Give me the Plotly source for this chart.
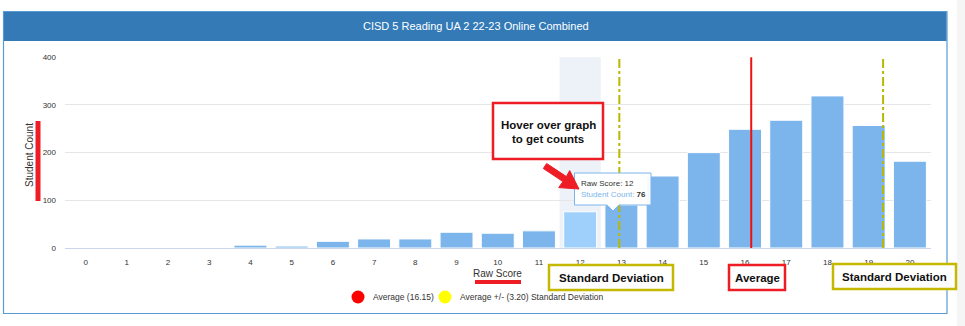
import plotly.graph_objects as go

# ---- data ----
scores = list(range(0, 21))
counts = [0, 0, 0, 0, 6, 4, 14, 19, 19, 33, 31, 36, 76, 90, 151, 200, 249, 268, 319, 257, 182]
average = 16.15
std_dev = 3.20
highlight_score = 12
title_text = "CISD 5 Reading UA 2 22-23 Online Combined"

W, H = 965, 326


def px(x):
    return x / W


def py(y):
    return 1 - y / H


bar_colors = ["#9fd0fb" if s == highlight_score else "#7cb5ec" for s in scores]

fig = go.Figure()
fig.add_trace(go.Bar(
    x=scores, y=counts,
    marker=dict(color=bar_colors, line=dict(color="white", width=1)),
    hoverinfo="skip", showlegend=False,
))

FONT = "Liberation Sans, Arial, sans-serif"
shapes = []
annotations = []

# panel border & title bar
shapes.append(dict(type="rect", xref="paper", yref="paper", x0=px(957), x1=px(965), y0=0, y1=1,
                   fillcolor="#f5f5f5", line=dict(width=0), layer="below"))
shapes.append(dict(type="rect", xref="paper", yref="paper", x0=px(3.5), x1=px(947), y0=py(313.5), y1=py(11.5),
                   fillcolor="white", line=dict(color="#5a9bd3", width=1.2), layer="below"))
shapes.append(dict(type="rect", xref="paper", yref="paper", x0=px(4), x1=px(946.5), y0=py(41), y1=py(12),
                   fillcolor="#337ab7", line=dict(width=0), layer="below"))
annotations.append(dict(xref="paper", yref="paper", x=px(476), y=py(26.5), text=title_text, showarrow=False,
                        font=dict(family=FONT, size=11, color="white"), xanchor="center", yanchor="middle"))

# hover band
shapes.append(dict(type="rect", xref="x", yref="y domain", x0=highlight_score - 0.5, x1=highlight_score + 0.5,
                   y0=0, y1=1, fillcolor="rgba(204,214,235,0.35)", line=dict(width=0), layer="below"))

# average & std-dev lines
shapes.append(dict(type="line", xref="x", yref="y domain", x0=average, x1=average, y0=0, y1=1,
                   line=dict(color="#ee1111", width=2), layer="above"))
for v in (average - std_dev, average + std_dev):
    shapes.append(dict(type="line", xref="x", yref="y domain", x0=v, x1=v, y0=0, y1=1,
                       line=dict(color="#b8b800", width=2, dash="dashdot"), layer="above"))

# axis titles + red highlight marks
annotations.append(dict(xref="paper", yref="paper", x=px(30), y=py(155), text="Student Count", textangle=-90,
                        showarrow=False, font=dict(family=FONT, size=10, color="#333333"),
                        xanchor="center", yanchor="middle"))
shapes.append(dict(type="line", xref="paper", yref="paper", x0=px(38), x1=px(38), y0=py(121), y1=py(201),
                   line=dict(color="#ee1c25", width=5)))
annotations.append(dict(xref="paper", yref="paper", x=px(497.5), y=py(273), text="Raw Score",
                        showarrow=False, font=dict(family=FONT, size=10, color="#333333"),
                        xanchor="center", yanchor="middle"))
shapes.append(dict(type="line", xref="paper", yref="paper", x0=px(475), x1=px(521), y0=py(282), y1=py(282),
                   line=dict(color="#ee1c25", width=4)))

# legend
for cx, col, label in [(358, "#ff0000", f"Average ({average:.2f})"),
                       (445, "#ffff00", f"Average +/- ({std_dev:.2f}) Standard Deviation")]:
    shapes.append(dict(type="circle", xref="paper", yref="paper", x0=px(cx - 6.5), x1=px(cx + 6.5),
                       y0=py(297 + 6.5), y1=py(297 - 6.5), fillcolor=col, line=dict(width=0)))
    annotations.append(dict(xref="paper", yref="paper", x=px(cx + 12.5), y=py(297), text=label, showarrow=False,
                            font=dict(family=FONT, size=8.5, color="#333333"), xanchor="left", yanchor="middle"))

# callout boxes
def box(x0, x1, y0, y1, color, lines, cy_list):
    shapes.append(dict(type="rect", xref="paper", yref="paper", x0=px(x0), x1=px(x1), y0=py(y1), y1=py(y0),
                       fillcolor="white", line=dict(color=color, width=2.5)))
    for t, cy in zip(lines, cy_list):
        annotations.append(dict(xref="paper", yref="paper", x=px((x0 + x1) / 2), y=py(cy), text=f"<b>{t}</b>",
                                showarrow=False, font=dict(family=FONT, size=11.5, color="#111111"),
                                xanchor="center", yanchor="middle"))


box(549, 673, 265, 290, "#c4b800", ["Standard Deviation"], [277.5])
box(729, 785, 265, 290, "#ee1c25", ["Average"], [277.5])
box(833, 956, 264, 289, "#c4b800", ["Standard Deviation"], [276.5])
box(493, 603, 103, 159, "#ee1c25", ["Hover over graph", "to get counts"], [125, 139])

# tooltip
shapes.append(dict(type="path", xref="paper", yref="paper",
                   path=(f"M {px(574.5)},{py(173)} L {px(651)},{py(173)} L {px(651)},{py(205)} "
                         f"L {px(619)},{py(205)} L {px(613)},{py(211)} L {px(607)},{py(205)} "
                         f"L {px(574.5)},{py(205)} Z"),
                   fillcolor="rgba(255,255,255,0.95)", line=dict(color="#7cb5ec", width=1)))
annotations.append(dict(xref="paper", yref="paper", x=px(579), y=py(183), text=f"Raw Score: {highlight_score}",
                        showarrow=False, font=dict(family=FONT, size=8, color="#333333"),
                        xanchor="left", yanchor="middle"))
annotations.append(dict(xref="paper", yref="paper", x=px(579), y=py(194.5),
                        text=f"<span style='color:#7cb5ec'>Student Count:</span> <b>{counts[highlight_score]}</b>",
                        showarrow=False, font=dict(family=FONT, size=8, color="#333333"),
                        xanchor="left", yanchor="middle"))

# red arrow
arrow_pts = [(546.7, 163.5), (566.4, 176.6), (569.7, 170.6), (579, 189), (558.7, 187.6),
             (563.0, 181.6), (543.3, 168.5)]
path = "M " + " L ".join(f"{px(a)},{py(b)}" for a, b in arrow_pts) + " Z"
shapes.append(dict(type="path", xref="paper", yref="paper", path=path, fillcolor="#ee1c25",
                   line=dict(color="#ee1c25", width=1)))

fig.update_layout(
    width=W, height=H,
    margin=dict(l=0, r=0, t=0, b=0),
    paper_bgcolor="white", plot_bgcolor="rgba(0,0,0,0)",
    bargap=0.2,
    shapes=shapes, annotations=annotations,
    font=dict(family=FONT, size=8, color="#333333"),
    xaxis=dict(domain=[px(65), px(930.5)], range=[-0.5, 20.5], tickmode="array", tickvals=scores,
               ticktext=[str(s) for s in scores], showgrid=False, showline=True, linecolor="#ccd6eb",
               linewidth=1, ticks="", ticklabelstandoff=6, tickfont=dict(size=8, color="#333333"),
               automargin=False, zeroline=False, fixedrange=True),
    yaxis=dict(domain=[py(248), py(57.3)], range=[0, 400], tickvals=[0, 100, 200, 300, 400],
               showgrid=True, gridcolor="#e6e6e6", gridwidth=1, zeroline=False, showline=False,
               ticks="", ticklabelstandoff=8, tickfont=dict(size=8, color="#333333"),
               automargin=False, fixedrange=True),
)

fig.write_html("out.html")
